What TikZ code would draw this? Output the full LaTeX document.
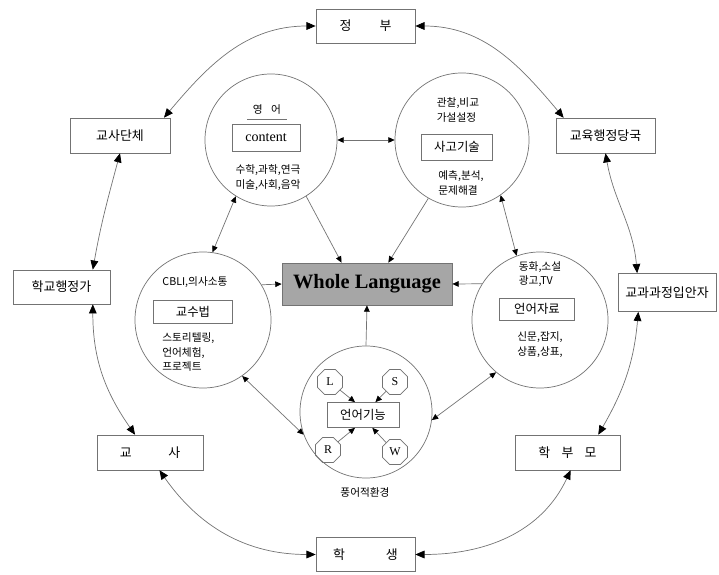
\documentclass[tikz,border=0pt]{standalone}
\usepackage{fontspec}
\setmainfont{Liberation Serif}
\newfontfamily\kr{Noto Sans CJK KR}
\usetikzlibrary{shapes.geometric,arrows.meta}

\tikzset{
  ln/.style={draw=black!55, line width=0.5pt},
  outbox/.style={ln, rectangle, minimum width=2.5cm, minimum height=0.87cm, inner sep=1pt, font=\kr\fontsize{9.2}{10}\selectfont},
  circ/.style={ln, circle, inner sep=0pt},
  inbox/.style={ln, rectangle, inner sep=1pt, font=\kr\fontsize{8.8}{10}\selectfont},
  txt/.style={inner sep=0pt, font=\kr\fontsize{7.6}{10.5}\selectfont},
  oct/.style={ln, regular polygon, regular polygon sides=8, minimum size=0.68cm, inner sep=0pt, font=\fontsize{8.5}{9}\selectfont},
  ring/.style={ln, {Triangle[length=6.5pt,width=5.5pt,color=black]}-{Triangle[length=6.5pt,width=5.5pt,color=black]}},
  link/.style={ln, {Triangle[length=4.5pt,width=4pt,color=black]}-{Triangle[length=4.5pt,width=4pt,color=black]}},
  feed/.style={ln, -{Triangle[length=4.5pt,width=4pt,color=black]}}
}

\begin{document}
\begin{tikzpicture}[x=0.025cm,y=0.025cm]
\useasboundingbox (0,0) rectangle (719,574);

\node[outbox, minimum width=2.475cm, minimum height=0.85cm] (gov) at (365.5,548) {정\hspace{20pt}부};
\node[outbox] (tchg) at (120,438.5) {교사단체};
\node[outbox, minimum width=2.475cm] (adm) at (605.5,438.5) {교육행정당국};
\node[outbox, minimum width=2.425cm, minimum height=0.85cm] (prin) at (61.5,287) {학교행정가};
\node[outbox, minimum width=2.45cm, minimum height=0.95cm] (cur) at (667,281.5) {교과과정입안자};
\node[outbox, minimum width=2.65cm] (teach) at (150,121.5) {교\hspace{26pt}사};
\node[outbox, minimum width=2.625cm] (par) at (567.5,121.5) {학\hspace{8pt}부\hspace{8pt}모};
\node[outbox, minimum width=2.475cm, minimum height=0.85cm] (stu) at (365.5,19.5) {학\hspace{29pt}생};

\draw[ring] (gov.west) to[out=180,in=50] (tchg.22);
\draw[ring] (tchg.south) to[out=-105,in=80] (prin.29);
\draw[ring] (prin.-29) to[out=-90,in=125] (teach.130);
\draw[ring] (teach.-62) to[out=-55,in=180] (stu.west);
\draw[ring] (stu.east) to[out=0,in=-115] (par.-80);
\draw[ring] (par.30) to[out=60,in=-95] (cur.-146);
\draw[ring] (cur.147) to[out=95,in=-80] (adm.south);
\draw[ring] (adm.157) to[out=130,in=0] (gov.east);

\node[circ, minimum size=3.3cm] (eng) at (271,434) {};
\node[circ, minimum size=3.35cm] (think) at (462,434) {};
\node[circ, minimum size=3.4cm] (meth) at (203,254) {};
\node[circ, minimum size=3.4cm] (mat) at (540,254) {};
\node[circ, minimum size=3.3cm] (func) at (366,162) {};
\node[ln, fill=black!35, minimum width=4.25cm, minimum height=1.05cm, font=\bfseries\fontsize{14.5}{16}\selectfont] (wl) at (367,290) {Whole Language};

\node[txt] (engt) at (267,464) {영\hspace{6pt}어};
\draw[ln] ([xshift=-4pt,yshift=-3pt]engt.south west) -- ([xshift=4pt,yshift=-3pt]engt.south east);
\node[inbox, minimum width=1.7cm, minimum height=0.675cm, font=\fontsize{10}{11}\selectfont] (engb) at (266,436) {content};
\node[txt, align=center] (engl) at (268,396.5) {수학,과학,연극\\미술,사회,음악};

\node[txt, align=left] (thkt) at (458,464) {관찰,비교\\가설설정};
\node[inbox, minimum width=1.775cm, minimum height=0.65cm] (thkb) at (457,427) {사고기술};
\node[txt, align=left] (thkl) at (461,391) {예측,분석,\\문제해결};

\node[txt] (metht) at (195,292) {CBLI,의사소통};
\node[inbox, minimum width=1.975cm, minimum height=0.575cm] (methb) at (193,262) {교수법};
\node[txt, align=left, anchor=west] (methl) at (162,222) {스토리텔링,\\언어체험,\\프로젝트};

\node[txt, align=left] (matt) at (540,300) {동화,소설\\광고,TV};
\node[inbox, minimum width=1.875cm, minimum height=0.55cm] (matb) at (537,265) {언어자료};
\node[txt, align=left] (matl) at (540,229.5) {신문,잡지,\\상품,상표,};

\node[inbox, minimum width=1.8cm, minimum height=0.625cm] (funcb) at (363,159) {언어기능};
\node[txt] (env) at (365,82) {풍어적환경};
\foreach \n/\x/\y/\a in {L/330/192/122,S/395/192/46,R/328/124/-122,W/395/122/-54}
{
	\node[oct] (\n) at (\x,\y) {\n};
	\draw[feed] (\n) -- (funcb.\a);
}

\draw[link] (eng.east) -- (think.west);
\draw[link] (eng.238) -- (meth.82);
\draw[link] (think.-55) -- (mat.110);
\draw[link] (meth.-55) -- (func.200);
\draw[link] (mat.-130) -- (func.-7);
\draw[feed] (eng.-58) -- (wl.140);
\draw[feed] (think.-120) -- (wl.45);
\draw[feed] (meth.31) -- (wl.west);
\draw[feed] (mat.148) -- (wl.east);
\draw[feed] (func.north) -- (wl.south);
\end{tikzpicture}
\end{document}
